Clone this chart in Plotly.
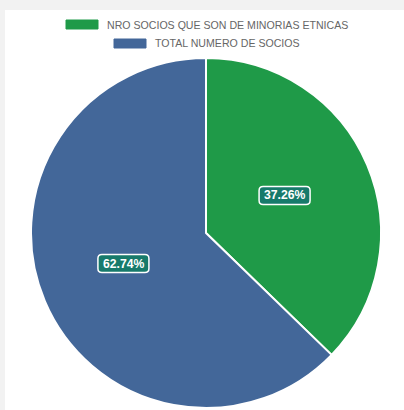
import math
import plotly.graph_objects as go

# Slice data
labels = ["NRO SOCIOS QUE SON DE MINORIAS ETNICAS", "TOTAL NUMERO DE SOCIOS"]
values = [37.26, 62.74]
colors = ["#1f9a48", "#436799"]

W, H = 404, 410
# pie geometry in pixels
cx, cy, r = 206, 233, 175
# badge anchor centre (pixels)
bx, by = 204, 229.5


def px2paper(x, y):
    return x / W, 1 - y / H


fig = go.Figure(go.Pie(
    labels=labels,
    values=values,
    marker=dict(colors=colors, line=dict(color="white", width=2)),
    sort=False,
    direction="clockwise",
    rotation=0,
    textinfo="none",
    hoverinfo="label+percent",
    showlegend=False,
    domain=dict(x=[(cx - r) / W, (cx + r) / W],
                y=[1 - (cy + r) / H, 1 - (cy - r) / H]),
))

shapes = [
    # white card
    dict(type="rect", xref="paper", yref="paper", x0=5 / W, x1=1.0,
         y0=0, y1=1 - 10 / H, fillcolor="white", line=dict(width=0), layer="below"),
]
annotations = []

# custom legend rows
legend_rows = [(24.5, 66, 105), (43.5, 114, 153)]
for (ly, sx, tx), lab, col in zip(legend_rows, labels, colors):
    shapes.append(dict(type="rect", xref="paper", yref="paper",
                       x0=sx / W, x1=(sx + 32) / W,
                       y0=1 - (ly + 4.5) / H, y1=1 - (ly - 4.5) / H,
                       fillcolor=col, line=dict(color=col, width=1)))
    annotations.append(dict(x=tx / W, y=1 - ly / H, xref="paper", yref="paper",
                            text=lab, showarrow=False, xanchor="left", yanchor="middle",
                            font=dict(family="Liberation Sans, Arial", size=10.6, color="#666666")))


def rounded_rect(x0, y0, x1, y1, rad):
    pts = []
    def p(x, y):
        X, Y = px2paper(x, y)
        return f"{X:.5f},{Y:.5f}"
    return (f"M {p(x0 + rad, y0)} L {p(x1 - rad, y0)} Q {p(x1, y0)} {p(x1, y0 + rad)} "
            f"L {p(x1, y1 - rad)} Q {p(x1, y1)} {p(x1 - rad, y1)} "
            f"L {p(x0 + rad, y1)} Q {p(x0, y1)} {p(x0, y1 - rad)} "
            f"L {p(x0, y0 + rad)} Q {p(x0, y0)} {p(x0 + rad, y0)} Z")


# percentage badges at half radius of each slice
total = sum(values)
acc = 0
bw, bh = 51, 18
for v in values:
    mid = (acc + v / 2) / total * 2 * math.pi
    acc += v
    px = bx + (r / 2) * math.sin(mid)
    py = by - (r / 2) * math.cos(mid)
    shapes.append(dict(type="path", xref="paper", yref="paper",
                       path=rounded_rect(px - bw / 2, py - bh / 2, px + bw / 2, py + bh / 2, 4),
                       fillcolor="#177a6b", line=dict(color="white", width=1.5)))
    X, Y = px2paper(px, py)
    annotations.append(dict(x=X, y=Y, xref="paper", yref="paper",
                            text=f"<b>{v / total * 100:.2f}%</b>", showarrow=False,
                            xanchor="center", yanchor="middle",
                            font=dict(family="Liberation Sans, Arial", size=12.2, color="white")))

fig.update_layout(
    width=W, height=H,
    margin=dict(l=0, r=0, t=0, b=0),
    paper_bgcolor="#f2f2f2",
    plot_bgcolor="#f2f2f2",
    shapes=shapes,
    annotations=annotations,
)

fig.write_html("out.html")
